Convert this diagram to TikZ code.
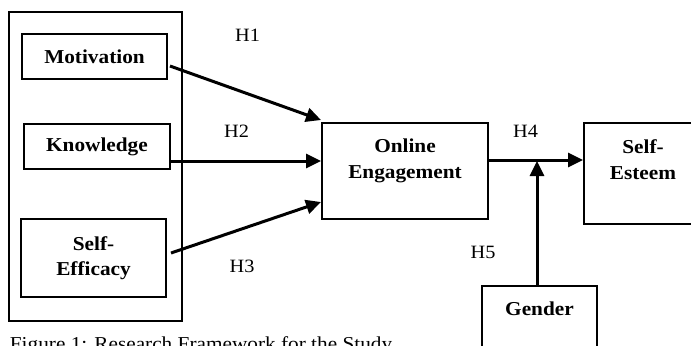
\documentclass[tikz,border=0pt]{standalone}
\usepackage{fontspec}
\setmainfont{Liberation Serif}[FakeStretch=1.08]
\usetikzlibrary{arrows.meta,calc}

\tikzset{
  box/.style={draw, line width=1pt, inner sep=0pt, align=center,
    font=\fontsize{9.85}{12.75}\selectfont\bfseries},
  boxtext/.style={inner sep=0pt, align=center,
    font=\fontsize{9.85}{12.75}\selectfont\bfseries},
  hyp/.style={inner sep=0pt, anchor=base, font=\fontsize{9.4}{11}\selectfont},
  path/.style={->, line width=1.5pt}
}

\begin{document}
\begin{tikzpicture}[x=0.5pt, y=-0.5pt, >={Triangle[length=7.5pt,width=7pt]}]
\useasboundingbox (0,0) rectangle (691,345);
% predictors
\node[box, minimum width=86.5pt, minimum height=154.5pt] (grp) at (95.5,166.5) {};
\node[box, minimum width=72.5pt, minimum height=22.5pt] (mot) at (94.5,56.5) {Motivation};
\node[box, minimum width=73pt, minimum height=22.5pt] (know) at (97,146.5) {Knowledge};
\node[box, minimum width=72.5pt, minimum height=39pt] (eff) at (93.5,258) {Self-\\Efficacy};
% mediator, outcome, moderator
\node[box, minimum width=83pt, minimum height=48pt] (oe) at (405,171) {};
\node[boxtext] (oetext) at (405,161) {Online\\Engagement};
\node[box, minimum width=59pt, minimum height=50.5pt] (se) at (643,173.5) {};
\node[boxtext] (setext) at (643,159.5) {Self-\\Esteem};
\node[box, minimum width=57.5pt, minimum height=48pt] (gen) at (539.5,334) {};
\node[boxtext] (gentext) at (539.5,309) {Gender};

% paths
\coordinate (k) at ($(know.east)+(0,14.5)$);
\coordinate (m) at ($(oe.east)+(0,-11)$);
\coordinate (g) at ($(gen.north)+(-2.5,0)$);
\draw[path] ($(mot.east)+(2,9.5)$) -- ($(oe.north west)+(0,-2)$);
\draw[path] (k) -- (k -| oe.west);
\draw[path] ($(eff.east)+(4,-5)$) -- ($(oe.south west)+(0,-18)$);
\draw[path] (m) -- (m -| se.west);
\draw[path] (g) -- ($(g |- m)+(0,1)$);

\node[hyp] (h1) at (247.5,41) {H1};
\node[hyp] (h2) at (236.5,137) {H2};
\node[hyp] (h3) at (242,272) {H3};
\node[hyp] (h4) at (525.5,137) {H4};
\node[hyp] (h5) at (483,258) {H5};

\node[anchor=base west, inner sep=0pt, font=\fontsize{9.85}{12}\selectfont] (cap) at (9.5,350)
  {Figure 1: Research Framework for the Study};
\end{tikzpicture}
\end{document}
